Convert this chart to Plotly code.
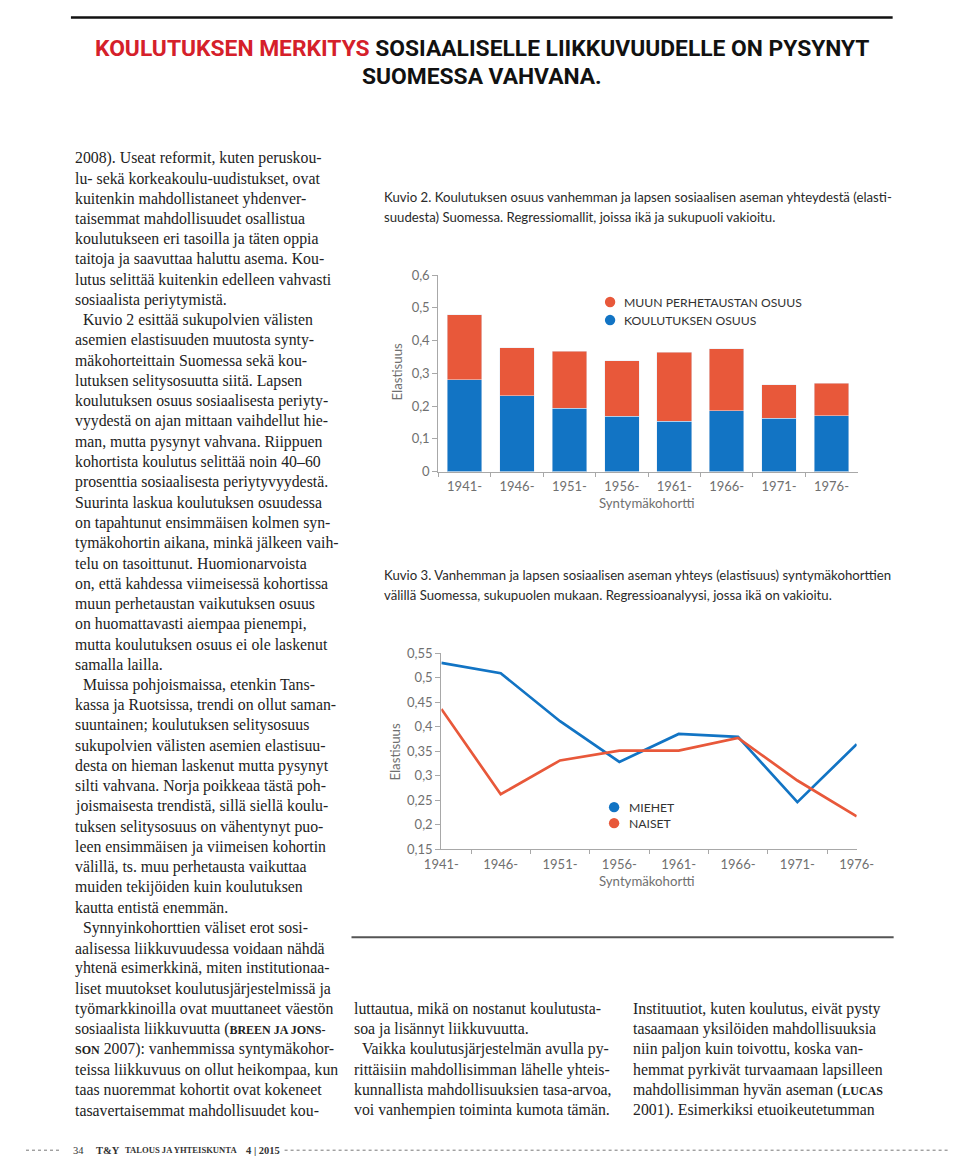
import plotly.graph_objects as go

W, H = 960, 1157

# ---------------- data ----------------
cohorts = ["1941-", "1946-", "1951-", "1956-", "1961-", "1966-", "1971-", "1976-"]
koulutuksen_osuus = [0.280, 0.231, 0.194, 0.169, 0.154, 0.185, 0.163, 0.170]
muun_perhetaustan_osuus = [0.199, 0.147, 0.174, 0.169, 0.211, 0.190, 0.102, 0.099]
miehet = [0.530, 0.509, 0.411, 0.328, 0.385, 0.379, 0.246, 0.364]
naiset = [0.436, 0.262, 0.331, 0.351, 0.351, 0.377, 0.290, 0.217]

y1_tickvals = [0, 0.1, 0.2, 0.3, 0.4, 0.5, 0.6]
y1_ticktext = ["0", "0,1", "0,2", "0,3", "0,4", "0,5", "0,6"]
y2_tickvals = [0.15, 0.2, 0.25, 0.3, 0.35, 0.4, 0.45, 0.5, 0.55]
y2_ticktext = ["0,15", "0,2", "0,25", "0,3", "0,35", "0,4", "0,45", "0,5", "0,55"]

title_red = "KOULUTUKSEN MERKITYS"
title_black = "SOSIAALISELLE LIIKKUVUUDELLE ON PYSYNYT"
title_line2 = "SUOMESSA VAHVANA."

caption2 = ["Kuvio 2. Koulutuksen osuus vanhemman ja lapsen sosiaalisen aseman yhteydestä (elasti-",
            "suudesta) Suomessa. Regressiomallit, joissa ikä ja sukupuoli vakioitu."]
caption3 = ["Kuvio 3. Vanhemman ja lapsen sosiaalisen aseman yhteys (elastisuus) syntymäkohorttien",
            "välillä Suomessa, sukupuolen mukaan. Regressioanalyysi, jossa ikä on vakioitu."]

SC = '<span style="font-size:12px"><b>'
SCE = '</b></span>'
left_col = [
    "2008). Useat reformit, kuten peruskou-",
    "lu- sekä korkeakoulu-uudistukset, ovat",
    "kuitenkin mahdollistaneet yhdenver-",
    "taisemmat mahdollisuudet osallistua",
    "koulutukseen eri tasoilla ja täten oppia",
    "taitoja ja saavuttaa haluttu asema. Kou-",
    "lutus selittää kuitenkin edelleen vahvasti",
    "sosiaalista periytymistä.",
    "\u2002Kuvio 2 esittää sukupolvien välisten",
    "asemien elastisuuden muutosta synty-",
    "mäkohorteittain Suomessa sekä kou-",
    "lutuksen selitysosuutta siitä. Lapsen",
    "koulutuksen osuus sosiaalisesta periyty-",
    "vyydestä on ajan mittaan vaihdellut hie-",
    "man, mutta pysynyt vahvana. Riippuen",
    "kohortista koulutus selittää noin 40–60",
    "prosenttia sosiaalisesta periytyvyydestä.",
    "Suurinta laskua koulutuksen osuudessa",
    "on tapahtunut ensimmäisen kolmen syn-",
    "tymäkohortin aikana, minkä jälkeen vaih-",
    "telu on tasoittunut. Huomionarvoista",
    "on, että kahdessa viimeisessä kohortissa",
    "muun perhetaustan vaikutuksen osuus",
    "on huomattavasti aiempaa pienempi,",
    "mutta koulutuksen osuus ei ole laskenut",
    "samalla lailla.",
    "\u2002Muissa pohjoismaissa, etenkin Tans-",
    "kassa ja Ruotsissa, trendi on ollut saman-",
    "suuntainen; koulutuksen selitysosuus",
    "sukupolvien välisten asemien elastisuu-",
    "desta on hieman laskenut mutta pysynyt",
    "silti vahvana. Norja poikkeaa tästä poh-",
    "joismaisesta trendistä, sillä siellä koulu-",
    "tuksen selitysosuus on vähentynyt puo-",
    "leen ensimmäisen ja viimeisen kohortin",
    "välillä, ts. muu perhetausta vaikuttaa",
    "muiden tekijöiden kuin koulutuksen",
    "kautta entistä enemmän.",
    "\u2002Synnyinkohorttien väliset erot sosi-",
    "aalisessa liikkuvuudessa voidaan nähdä",
    "yhtenä esimerkkinä, miten institutionaa-",
    "liset muutokset koulutusjärjestelmissä ja",
    "työmarkkinoilla ovat muuttaneet väestön",
    "sosiaalista liikkuvuutta (" + SC + "BREEN JA JONS-" + SCE,
    SC + "SON" + SCE + " 2007): vanhemmissa syntymäkohor-",
    "teissa liikkuvuus on ollut heikompaa, kun",
    "taas nuoremmat kohortit ovat kokeneet",
    "tasavertaisemmat mahdollisuudet kou-",
]
mid_col = [
    "luttautua, mikä on nostanut koulutusta-",
    "soa ja lisännyt liikkuvuutta.",
    "\u2002Vaikka koulutusjärjestelmän avulla py-",
    "rittäisiin mahdollisimman lähelle yhteis-",
    "kunnallista mahdollisuuksien tasa-arvoa,",
    "voi vanhempien toiminta kumota tämän.",
]
right_col = [
    "Instituutiot, kuten koulutus, eivät pysty",
    "tasaamaan yksilöiden mahdollisuuksia",
    "niin paljon kuin toivottu, koska van-",
    "hemmat pyrkivät turvaamaan lapsilleen",
    "mahdollisimman hyvän aseman (" + SC + "LUCAS" + SCE,
    "2001). Esimerkiksi etuoikeutetumman",
]

BLUE = "#1274c4"
ORANGE = "#e8583a"
AXIS = "#a8a8a8"
TICKC = "#707070"
SERIF = "Liberation Serif"
SANS = "Lato"
BODY = 15.8

# page calibration: page-image coordinates -> figure pixels
OX, SX, OY, SY = 25.0, 0.964, 16.0, 0.986


def fx(x):
    return (x - OX) / SX


def fy(y):
    return (y - OY) / SY


def px(x):
    return min(max(fx(x) / W, 0), 1)


def py(y):
    return min(max(1 - fy(y) / H, 0), 1)


fig = go.Figure()

fig.add_trace(go.Bar(x=cohorts, y=koulutuksen_osuus, marker_color=BLUE, width=0.66,
                     name="KOULUTUKSEN OSUUS", showlegend=False, xaxis="x", yaxis="y"))
fig.add_trace(go.Bar(x=cohorts, y=muun_perhetaustan_osuus, marker_color=ORANGE, width=0.66,
                     name="MUUN PERHETAUSTAN OSUUS", showlegend=False, xaxis="x", yaxis="y"))
fig.add_trace(go.Scatter(x=cohorts, y=miehet, mode="lines", line=dict(color=BLUE, width=2.7),
                         name="MIEHET", showlegend=False, xaxis="x2", yaxis="y2"))
fig.add_trace(go.Scatter(x=cohorts, y=naiset, mode="lines", line=dict(color=ORANGE, width=2.7),
                         name="NAISET", showlegend=False, xaxis="x2", yaxis="y2"))

common_x = dict(type="category", showline=True, linecolor=AXIS, linewidth=1.2,
                ticks="outside", tickson="boundaries", ticklen=4, tickcolor=AXIS,
                ticklabelstandoff=3,
                tickfont=dict(family=SANS, size=13, color=TICKC), showgrid=False,
                zeroline=False, fixedrange=True)
common_y = dict(showline=True, linecolor=AXIS, linewidth=1.2, ticks="outside", ticklen=5,
                tickcolor=AXIS, tickfont=dict(family=SANS, size=13, color=TICKC),
                showgrid=False, zeroline=False, fixedrange=True)

fig.update_layout(
    width=W, height=H, margin=dict(l=0, r=0, t=0, b=0),
    paper_bgcolor="white", plot_bgcolor="white", barmode="stack",
    xaxis=dict(domain=[px(438), px(858)], anchor="y", **common_x),
    yaxis=dict(domain=[py(471.5), py(275)], anchor="x", range=[0, 0.6],
               tickvals=y1_tickvals, ticktext=y1_ticktext, **common_y),
    xaxis2=dict(domain=[px(441), px(857)], anchor="y2", **common_x),
    yaxis2=dict(domain=[py(849), py(653)], anchor="x2", range=[0.15, 0.55],
                tickvals=y2_tickvals, ticktext=y2_ticktext, **common_y),
)

ann = []
shapes = []


def text(x, y, s, size, family, color="#222", xanchor="left", angle=0, weight=None):
    f = dict(family=family, size=size, color=color)
    if weight:
        f["weight"] = weight
    ann.append(dict(x=px(x), y=py(y), xref="paper", yref="paper", text=s, showarrow=False,
                    xanchor=xanchor, yanchor="middle", font=f, textangle=angle))


def hline(x0, x1, y, color, width, dash="solid"):
    shapes.append(dict(type="line", xref="paper", yref="paper", x0=px(x0), x1=px(x1),
                       y0=py(y), y1=py(y), line=dict(color=color, width=width, dash=dash)))


# top rule (as high as the page allows)
shapes.append(dict(type="line", xref="paper", yref="paper", x0=px(70), x1=px(893),
                   y0=1 - 1.5 / H, y1=1 - 1.5 / H, line=dict(color="#111", width=2.5)))

# title
text(482, 48, '<span style="color:#d5202a">' + title_red + '</span> ' + title_black,
     22.8, "Roboto", color="#111", xanchor="center", weight=700)
text(482, 76, title_line2, 22.8, "Roboto", color="#111", xanchor="center", weight=700)

# body text columns (baseline grid)
first, last = 158.0, 1110.0
step = (last - first) / (len(left_col) - 1)
for i, s in enumerate(left_col):
    text(72, first + i * step, s, BODY, SERIF)
for i, s in enumerate(mid_col):
    text(352, last - (len(mid_col) - 1 - i) * step, s, BODY, SERIF)
for i, s in enumerate(right_col):
    text(631, last - (len(right_col) - 1 - i) * step, s, BODY, SERIF)

# separator rule below the figures
hline(351, 894, 937, "#555", 2)

# captions
for i, s in enumerate(caption2):
    text(382, 197 + i * 20, s, 13.2, SANS, color="#2a2a2a")
for i, s in enumerate(caption3):
    text(382, 575 + i * 19.5, s, 13.2, SANS, color="#2a2a2a")

# axis titles
text(397, 372, "Elastisuus", 13.2, SANS, color=TICKC, xanchor="center", angle=-90)
text(647, 503, "Syntymäkohortti", 13.2, SANS, color=TICKC, xanchor="center")
text(395, 752, "Elastisuus", 13.2, SANS, color=TICKC, xanchor="center", angle=-90)
text(647, 881, "Syntymäkohortti", 13.2, SANS, color=TICKC, xanchor="center")


def dot(cx, cy, color, r=5.2):
    shapes.append(dict(type="circle", xref="paper", yref="paper", x0=px(cx - r), x1=px(cx + r),
                       y0=py(cy + r), y1=py(cy - r), fillcolor=color, line=dict(width=0)))


# legends
dot(610, 302, ORANGE)
text(622, 302, "MUUN PERHETAUSTAN OSUUS", 12.2, SANS, color="#333")
dot(610, 320, BLUE)
text(622, 320, "KOULUTUKSEN OSUUS", 12.2, SANS, color="#333")
dot(614, 807, BLUE)
text(627, 807, "MIEHET", 12.2, SANS, color="#333")
dot(614, 823, ORANGE)
text(627, 823, "NAISET", 12.2, SANS, color="#333")

# footer
shapes.append(dict(type="line", xref="paper", yref="paper", x0=0, x1=px(61), y0=py(1150),
                   y1=py(1150), line=dict(color="#777", width=1, dash="dot")))
shapes.append(dict(type="line", xref="paper", yref="paper", x0=px(284), x1=1, y0=py(1150),
                   y1=py(1150), line=dict(color="#777", width=1, dash="dot")))
text(70, 1150, "34", 10.5, SERIF, color="#333")
text(93, 1150, "<b>T&amp;Y</b>", 10.5, SERIF, color="#333")
text(122, 1150, "<b>TALOUS JA YHTEISKUNTA</b>", 8.6, SERIF, color="#333")
text(243, 1150, "<b>4 | 2015</b>", 10.5, SERIF, color="#333")

fig.update_layout(annotations=ann, shapes=shapes)
fig.write_html("out.html")
